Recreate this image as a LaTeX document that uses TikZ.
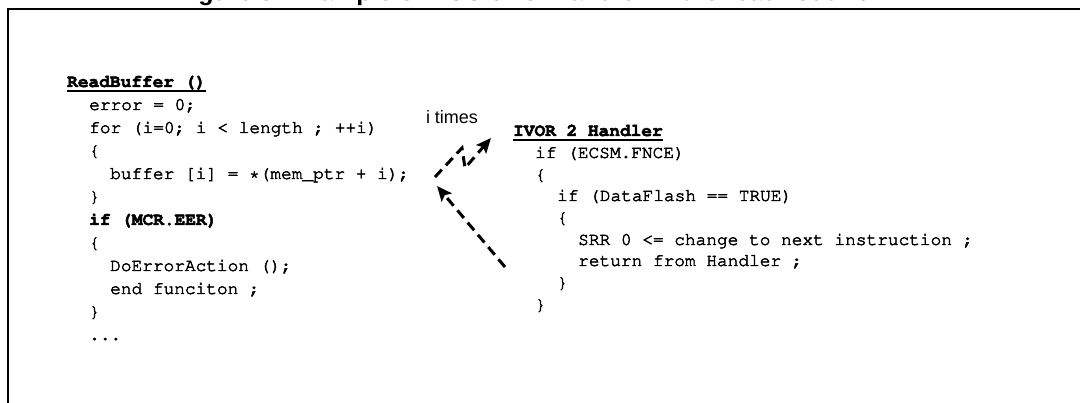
\documentclass[tikz,border=0pt]{standalone}
\usepackage[T1]{fontenc}
\usepackage{fontspec}
\setmainfont{Liberation Sans}
\usetikzlibrary{arrows.meta}
% Courier for the code listings
\newcommand\courfont{\fontencoding{T1}\fontfamily{pcr}\fontseries{m}\selectfont}
\newcommand\courbold{\fontencoding{T1}\fontfamily{pcr}\fontseries{b}\selectfont}
% slightly heavier glyph strokes for the thin Courier outlines
\newcommand\strokeon{\special{pdf:literal direct 2 Tr 0.5 w}}
\newcommand\strokeoff{\special{pdf:literal direct 0 Tr}}
\begin{document}
\begin{tikzpicture}[x=1pt,y=-1pt,
  code/.style={font=\courfont\fontsize{17.8}{20}\selectfont, anchor=base west, inner sep=0pt,
    execute at begin node=\strokeon, execute at end node=\strokeoff},
  hdr/.style={code, font=\courbold\fontsize{17.8}{20}\selectfont},
  hline/.style={line width=1.6pt},
  flow/.style={line width=3pt, dash pattern=on 10pt off 6pt, line join=miter,
    -{Stealth[length=15pt,width=13pt,inset=3pt]}},
  frame/.style={line width=2.4pt}]
\useasboundingbox (0,0) rectangle (1080,403);

% caption above the frame (cut by the page edge)
\node[anchor=base west, inner sep=0pt, font=\bfseries\fontsize{25}{30}\selectfont] (cap) at (176,0.5)
  {Figure 5. Example of ECC error handler in the read routine};

% frame
\draw[frame] (8,404) -- (8,9) -- (1082,9);

% read routine
\node[hdr] (rb) at (67,87) {ReadBuffer ()};
\draw[hline] ([yshift=-4pt]rb.base west) -- ([yshift=-4pt]rb.base east);
\node[code] (l1) at (89,110) {error = 0;};
\node[code] (l2) at (89,133) {for (i=0; i < length ; ++i)};
\node[code] (l3) at (89,156) {\{};
\node[code] (l4) at (110,179) {buffer [i] = *(mem\_ptr + i);};
\node[code] (l5) at (89,202) {\}};
\node[hdr]  (l6) at (89,225) {if (MCR.EER)};
\node[code] (l7) at (89,248) {\{};
\node[code] (l8) at (110,271) {DoErrorAction ();};
\node[code] (l9) at (110,294) {end funciton ;};
\node[code] (l10) at (89,317) {\}};
\node[code] (l11) at (89,340) {...};

% exception handler
\node[hdr] (iv) at (513,136) {IVOR 2 Handler};
\draw[hline] ([yshift=-4pt]iv.base west) -- ([yshift=-4pt]iv.base east);
\node[code] (r1) at (535,158) {if (ECSM.FNCE)};
\node[code] (r2) at (535,180) {\{};
\node[code] (r3) at (557,201) {if (DataFlash == TRUE)};
\node[code] (r4) at (557,223) {\{};
\node[code] (r5) at (578,245) {SRR 0 <= change to next instruction ;};
\node[code] (r6) at (578,266) {return from Handler ;};
\node[code] (r7) at (557,288) {\}};
\node[code] (r8) at (535,310) {\}};

% loop label
\node[inner sep=0pt, font=\fontsize{18}{20}\selectfont] (it) at (452,117) {i times};

% flow arrows
\coordinate (loopS) at (435,177);
\coordinate (loopK1) at (462,148);
\coordinate (loopK2) at (465,168);
\coordinate (loopE) at (491,138);
\draw[flow] (loopS) -- (loopK1) -- (loopK2) -- (loopE);

\coordinate (retS) at (505,267);
\coordinate (retE) at (437,186);
\draw[flow] (retS) -- (retE);
\end{tikzpicture}
\end{document}
